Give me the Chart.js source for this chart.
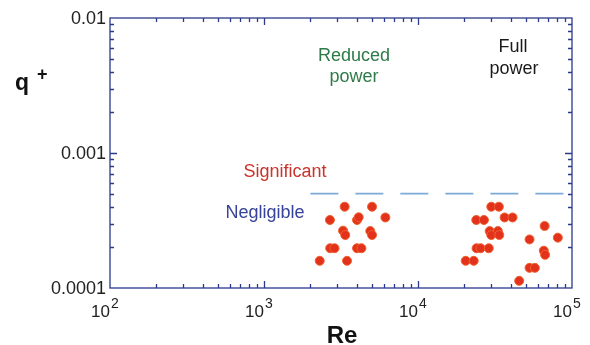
<!DOCTYPE html>
<html lang="en">
<head>
  <meta charset="UTF-8">
  <title>q+ versus Re</title>
  <style>
    body { margin: 0; background: #fff; }
    #wrap { width: 590px; height: 345px; }
  </style>
</head>
<body>
  <div id="wrap"><canvas id="chart"></canvas></div>

  <script src="https://cdn.jsdelivr.net/npm/chart.js"></script>
  <script>
    // Measured points, Reynolds number vs q+
    const reValues = [
      3340, 5030, 2680, 4020, 4120, 6140, 3260, 3370, 4900, 5030, 2690, 2870, 4020, 4290, 2300, 3460,
      29900, 33500, 23900, 26800, 36500, 41100, 29200, 33000, 29900, 33700, 66400, 80900, 53000,
      65600, 66900, 24000, 25500, 28800, 20400, 23000, 53000, 57400, 45400
    ];
    const qValues = [
      4.0e-4, 4.0e-4, 3.19e-4, 3.19e-4, 3.34e-4, 3.33e-4, 2.66e-4, 2.47e-4, 2.64e-4, 2.47e-4, 1.97e-4, 1.97e-4, 1.97e-4, 1.97e-4, 1.59e-4, 1.59e-4,
      4.0e-4, 4.0e-4, 3.19e-4, 3.19e-4, 3.33e-4, 3.33e-4, 2.64e-4, 2.64e-4, 2.47e-4, 2.47e-4, 2.88e-4, 2.36e-4, 2.29e-4,
      1.89e-4, 1.76e-4, 1.97e-4, 1.97e-4, 1.97e-4, 1.59e-4, 1.59e-4, 1.41e-4, 1.41e-4, 1.13e-4
    ];
    // threshold between significant and negligible
    const thresholdRe = [2000, 100000];
    const thresholdQ = [5e-4, 5e-4];

    const xDecades = [2, 3, 4, 5];
    const yTickValues = [0.01, 0.001, 0.0001];
    const yTickLabels = ['0.01', '0.001', '0.0001'];

    const axisColor = '#2b3a8a';
    const font = '"Liberation Sans", Arial, sans-serif';

    // frame, ticks and labels drawn from the scales
    const framePlugin = {
      id: 'frame',
      afterDraw(chart) {
        const ctx = chart.ctx;
        const a = chart.chartArea;
        const xs = chart.scales.x, ys = chart.scales.y;
        ctx.save();
        ctx.strokeStyle = axisColor;
        ctx.lineWidth = 1.3;
        ctx.strokeRect(a.left, a.top, a.right - a.left, a.bottom - a.top);

        ctx.beginPath();
        // x ticks (bottom and top, inward)
        for (let d = 2; d < 5; d++) {
          for (let m = 1; m < 10; m++) {
            if (m === 1 && d === 2) continue;
            const px = Math.round(xs.getPixelForValue(m * Math.pow(10, d))) + 0.5;
            const len = m === 1 ? 7 : 4;
            ctx.moveTo(px, a.bottom); ctx.lineTo(px, a.bottom - len);
            ctx.moveTo(px, a.top); ctx.lineTo(px, a.top + len);
          }
        }
        // y ticks (left and right, inward)
        for (let d = -4; d < -2; d++) {
          for (let m = 1; m < 10; m++) {
            if (m === 1 && d === -4) continue;
            const py = Math.round(ys.getPixelForValue(m * Math.pow(10, d))) + 0.5;
            const len = m === 1 ? 7 : 4;
            ctx.moveTo(a.left, py); ctx.lineTo(a.left + len, py);
            ctx.moveTo(a.right, py); ctx.lineTo(a.right - len, py);
          }
        }
        ctx.stroke();

        // tick labels
        ctx.fillStyle = '#222';
        ctx.font = '18px ' + font;
        ctx.textBaseline = 'middle';
        ctx.textAlign = 'right';
        yTickValues.forEach((v, i) => {
          ctx.fillText(yTickLabels[i], a.left - 4, ys.getPixelForValue(v) + 1);
        });
        ctx.textBaseline = 'alphabetic';
        xDecades.forEach(k => {
          const px = xs.getPixelForValue(Math.pow(10, k));
          ctx.font = '17px ' + font;
          ctx.textAlign = 'right';
          ctx.fillText('10', px, 317);
          ctx.font = '14px ' + font;
          ctx.textAlign = 'left';
          ctx.fillText(String(k), px + 1, 308);
        });

        // axis titles
        ctx.fillStyle = '#111';
        ctx.font = 'bold 24px ' + font;
        ctx.textAlign = 'center';
        ctx.fillText('Re', 342, 343);
        ctx.textAlign = 'left';
        ctx.font = 'bold 23px ' + font;
        ctx.fillText('q', 15, 90);
        ctx.font = 'bold 18px ' + font;
        ctx.fillText('+', 37, 80);

        // region annotations
        ctx.font = '18px ' + font;
        ctx.textAlign = 'center';
        ctx.fillStyle = '#2e7a48';
        ctx.fillText('Reduced', 354, 61);
        ctx.fillText('power', 354, 82);
        ctx.fillStyle = '#1a1a1a';
        ctx.fillText('Full', 513, 52);
        ctx.fillText('power', 514, 74);
        ctx.fillStyle = '#c8342c';
        ctx.fillText('Significant', 285, 177);
        ctx.fillStyle = '#36439a';
        ctx.fillText('Negligible', 265, 218);
        ctx.restore();
      }
    };

    const ctx = document.getElementById('chart').getContext('2d');
    new Chart(ctx, {
      type: 'scatter',
      data: {
        datasets: [
          {
            label: 'threshold',
            type: 'line',
            data: thresholdRe.map((x, i) => ({ x: x, y: thresholdQ[i] })),
            borderColor: '#7daad8',
            borderWidth: 1.8,
            borderDash: [28, 17],
            pointRadius: 0,
            fill: false
          },
          {
            label: 'data',
            data: reValues.map((x, i) => ({ x: x, y: qValues[i] })),
            backgroundColor: '#e2321c',
            borderColor: '#f0602e',
            borderWidth: 1,
            pointRadius: 4.5
          }
        ]
      },
      options: {
        responsive: true,
        maintainAspectRatio: false,
        animation: false,
        layout: { padding: { left: 110, right: 18, top: 18, bottom: 57 } },
        plugins: { legend: { display: false }, tooltip: { enabled: false } },
        scales: {
          x: { type: 'logarithmic', min: 100, max: 100000, display: false },
          y: { type: 'logarithmic', min: 0.0001, max: 0.01, display: false }
        }
      },
      plugins: [framePlugin]
    });
  </script>
</body>
</html>
